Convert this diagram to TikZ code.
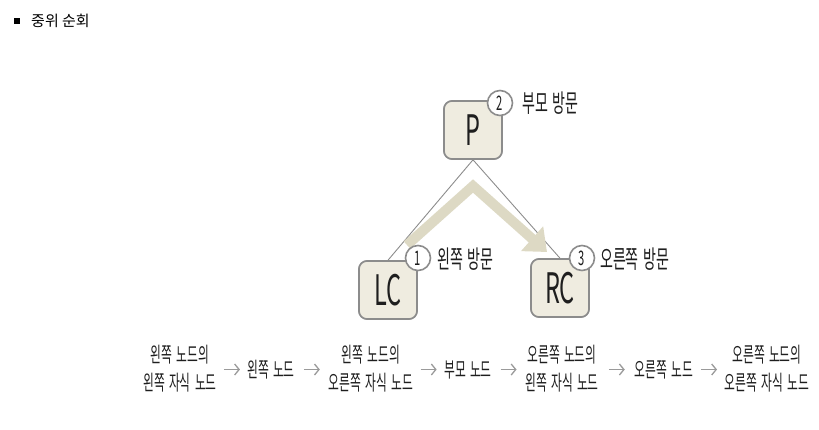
\documentclass[tikz,border=0pt]{standalone}
\usepackage{fontspec}
\usetikzlibrary{arrows.meta,calc}
\newfontfamily\kfont[FakeStretch=0.56,WordSpace=1.6]{Noto Sans CJK KR}
\newfontfamily\gfont{Noto Sans CJK KR}
\definecolor{kasten}{HTML}{EFECE0}
\definecolor{rand}{HTML}{8C8C8C}
\definecolor{pfad}{HTML}{DDD9C4}
\definecolor{pfeil}{HTML}{9A9A9A}
\definecolor{schrift}{HTML}{1E1E1E}

\begin{document}
\begin{tikzpicture}[x=1pt,y=-1pt,
    box/.style={draw=rand, line width=1.6pt, fill=kasten, rounded corners=8pt,
        minimum size=58pt, inner sep=0pt, text=schrift, font=\kfont\fontsize{42}{42}\selectfont},
    num/.style={circle, draw=rand, line width=1.6pt, fill=white, minimum size=25pt,
        inner sep=0pt, text=schrift, font=\kfont\fontsize{20}{20}\selectfont},
    lbl/.style={anchor=west, inner sep=0pt, text=schrift, font=\kfont\fontsize{25}{25}\selectfont},
    item/.style={align=center, inner sep=1pt, text=schrift, font=\kfont\fontsize{21}{28}\selectfont},
    link/.style={draw=rand, line width=0.9pt},
    flow/.style={draw=pfeil, line width=1.3pt, -{Straight Barb[length=4.5pt,width=11pt]}}]
\useasboundingbox (0,0) rectangle (819,429);

% Header
\fill (14,18) rectangle (20,24);
\node[anchor=west, inner sep=0pt, font=\gfont\fontsize{15}{15}\selectfont] (head) at (31,21) {중위 순회};

% Tree
\node[box] (P) at (473,130) {P};
\node[box] (LC) at (388,290) {LC};
\node[box] (RC) at (560,288) {RC};
\draw[link] (P.south) -- (LC.north);
\draw[link] (P.south) -- (RC.north);

% Visit path
\coordinate (g1) at (407,245);
\coordinate (g2) at (473,186);
\coordinate (g3) at (547,252);
\draw[pfad, line width=10pt, -{Triangle[length=20pt,width=32pt]}] (g1) -- (g2) -- (g3);

% Redraw boxes above the path
\node[box] at (P) {P};
\node[box] at (LC) {LC};
\node[box] at (RC) {RC};

% Visit order
\node[num] (n2) at (500,103) {2};
\node[num] (n1) at (418,258) {1};
\node[num] (n3) at (582,258) {3};
\node[lbl] (l2) at (522,103) {부모 방문};
\node[lbl] (l1) at (437,259) {왼쪽 방문};
\node[lbl] (l3) at (600,259) {오른쪽 방문};

% Order of visits
\node[item] (s1) at (180,369) {왼쪽 노드의\\왼쪽 자식 노드};
\node[item] (s2) at (271,370) {왼쪽 노드};
\node[item] (s3) at (371,369) {왼쪽 노드의\\오른쪽 자식 노드};
\node[item] (s4) at (468,370) {부모 노드};
\node[item] (s5) at (562,369) {오른쪽 노드의\\왼쪽 자식 노드};
\node[item] (s6) at (664,370) {오른쪽 노드};
\node[item] (s7) at (767,369) {오른쪽 노드의\\오른쪽 자식 노드};
\foreach \a/\b in {s1/s2,s2/s3,s3/s4,s4/s5,s5/s6,s6/s7}
    \draw[flow] ($(\a.east)!.5!(\b.west)+(-8,0)$) -- ++(16,0);
\end{tikzpicture}
\end{document}
